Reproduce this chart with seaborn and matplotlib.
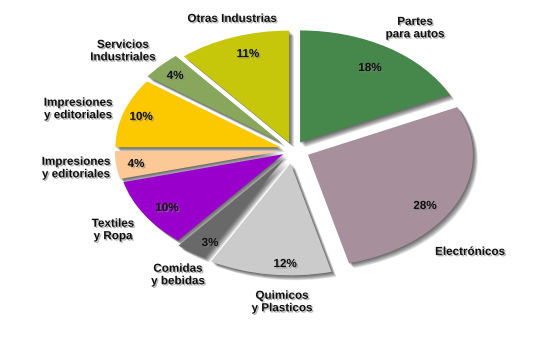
import numpy as np
import matplotlib
matplotlib.use("Agg")
import matplotlib.pyplot as plt
import matplotlib.patheffects as pe
import seaborn as sns

# Sector shares (%), clockwise from 12 o'clock
sectores = ["Partes\npara autos", "Electrónicos", "Quimicos\ny Plasticos",
            "Comidas\ny bebidas", "Textiles\ny Ropa", "Impresiones\ny editoriales",
            "Impresiones\ny editoriales", "Servicios\nIndustriales", "Otras Industrias"]
porcentajes = [18, 28, 12, 3, 10, 4, 10, 4, 11]
colores = ["#46874c", "#a78f9b", "#cbcbcb", "#696969", "#9a00cc",
           "#fbc896", "#fcc800", "#88a65c", "#c6c60a"]
separacion = [0.08, 0.10, 0.12, 0.10, 0.07, 0.08, 0.08, 0.10, 0.07]

# label placement: radius and angular nudge from each wedge's mid-angle
pct_r = [0.868, 0.943, 1.019, 0.971, 0.923, 0.960, 0.967, 0.974, 0.899]
pct_dth = [-0.1, -6.8, 4.5, 3.0, 1.7, 0.3, 0.2, 0.4, -2.1]
lab_r = [1.316, 1.407, 1.359, 1.316, 1.304, 1.325, 1.353, 1.357, 1.227]
lab_dth = [-1.8, -15.1, 4.4, 2.2, 0.8, -0.2, 2.3, 2.6, -2.3]

sns.set_theme(style="white")
plt.rcParams["font.family"] = ["Liberation Sans", "DejaVu Sans"]

fig = plt.figure(figsize=(5.5, 3.4), dpi=100)
ax = fig.add_axes([0, 0, 1, 1])
paleta = sns.color_palette(colores)

# soft drop shadow pass (drawn beneath all wedges)
sombra = [pe.SimplePatchShadow(offset=(k, -k), shadow_rgbFace="black", alpha=0.11)
          for k in np.arange(0.5, 4.0, 0.5)]
ax.pie(porcentajes, colors=paleta, startangle=90, counterclock=False,
       explode=separacion, wedgeprops=dict(path_effects=sombra, linewidth=0))

wedges, texts, autotexts = ax.pie(
    porcentajes, labels=sectores, colors=paleta, startangle=90,
    counterclock=False, explode=separacion,
    autopct=lambda p: f"{p:.0f}%", pctdistance=0.86, labeldistance=1.22,
    wedgeprops=dict(linewidth=0))

txt_fx = [pe.SimplePatchShadow(offset=(1.0, -1.0), shadow_rgbFace="0.5", alpha=0.6),
          pe.Normal()]
for i, w in enumerate(wedges):
    mid = np.deg2rad((w.theta1 + w.theta2) / 2)
    a = mid + np.deg2rad(pct_dth[i])
    autotexts[i].set_position((pct_r[i] * np.cos(a), pct_r[i] * np.sin(a)))
    b = mid + np.deg2rad(lab_dth[i])
    texts[i].set_position((lab_r[i] * np.cos(b), lab_r[i] * np.sin(b)))
    for t in (texts[i], autotexts[i]):
        t.set_ha("center")
        t.set_va("center")
        t.set_fontsize(8.4)
        t.set_fontweight("bold")
        t.set_color("#111111")
        t.set_linespacing(1.05)
        t.set_path_effects(txt_fx)

ax.set_aspect("auto")
ax.set_xlim(-293 / 165, 257 / 165)
ax.set_ylim(-190 / 112, 150 / 112)
ax.axis("off")

fig.savefig("out.png", dpi=100, facecolor="white")
